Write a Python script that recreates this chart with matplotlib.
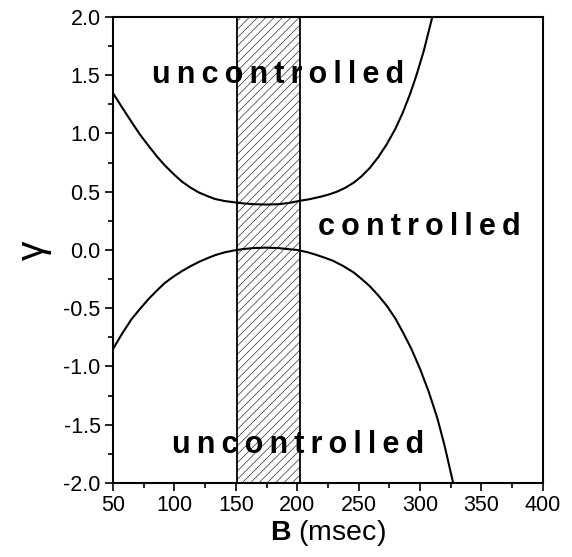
import matplotlib
matplotlib.use('Agg')
import matplotlib.pyplot as plt
from matplotlib.ticker import MultipleLocator, FormatStrFormatter

# upper boundary gamma(B)
b_upper = [50, 57, 65, 72, 79, 86, 92, 99, 106, 113, 120, 127, 133, 141, 149, 156, 165, 175, 185,
           194, 202, 210, 219, 226, 232, 239, 246, 252, 259, 266, 273, 280, 286, 292, 297, 303, 310]
g_upper = [1.346, 1.23, 1.10, 0.99, 0.893, 0.80, 0.728, 0.655, 0.588, 0.536, 0.493, 0.462, 0.438,
           0.420, 0.409, 0.400, 0.393, 0.390, 0.393, 0.405, 0.422, 0.436, 0.457, 0.477, 0.499,
           0.533, 0.578, 0.629, 0.703, 0.797, 0.909, 1.042, 1.18, 1.342, 1.497, 1.707, 2.0]

# lower boundary gamma(B)
b_lower = [50, 57, 65, 72, 79, 86, 92, 99, 106, 113, 120, 127, 133, 141, 148, 156, 165, 175, 185,
           194, 200, 208, 215, 222, 229, 237, 246, 252, 259, 266, 273, 280, 286, 293, 300, 307,
           314, 320, 326, 327]
g_lower = [-0.85, -0.725, -0.595, -0.505, -0.42, -0.345, -0.285, -0.23, -0.182, -0.14, -0.102,
           -0.07, -0.045, -0.02, -0.005, 0.008, 0.017, 0.02, 0.016, 0.006, 0.0, -0.018, -0.04,
           -0.065, -0.092, -0.135, -0.193, -0.245, -0.31, -0.39, -0.48, -0.59, -0.705, -0.85,
           -1.02, -1.215, -1.44, -1.68, -1.955, -2.0]

# hatched band
band = (151, 202)

region_labels = ['uncontrolled', 'controlled', 'uncontrolled']
region_pos = [(82, 1.43), (217, 0.128), (98, -1.743)]

plt.rcParams['font.family'] = ['Liberation Sans', 'DejaVu Sans']
plt.rcParams['mathtext.fontset'] = 'custom'
plt.rcParams['mathtext.rm'] = 'Liberation Sans'
plt.rcParams['mathtext.bf'] = 'Liberation Sans:bold'
plt.rcParams['axes.unicode_minus'] = False
plt.rcParams['hatch.linewidth'] = 0.4

fig = plt.figure(figsize=(5.72, 5.57), dpi=100)
ax = fig.add_axes([0.1976, 0.1329, 0.7514, 0.8366])

ax.axvspan(band[0], band[1], facecolor='white', edgecolor='black', hatch='////', lw=1.3, zorder=1)

ax.plot(b_upper, g_upper, color='black', lw=1.5, zorder=3)
ax.plot(b_lower, g_lower, color='black', lw=1.5, zorder=3)

for lab, (x, y) in zip(region_labels, region_pos):
    ax.text(x, y, '\u2009'.join(lab), fontsize=22, fontweight='bold', ha='left', va='baseline', zorder=4)

ax.set_xlim(50, 400)
ax.set_ylim(-2.0, 2.0)
ax.xaxis.set_major_locator(MultipleLocator(50))
ax.xaxis.set_minor_locator(MultipleLocator(25))
ax.yaxis.set_major_locator(MultipleLocator(0.5))
ax.yaxis.set_minor_locator(MultipleLocator(0.25))
ax.yaxis.set_major_formatter(FormatStrFormatter('%.1f'))

ax.tick_params(which='major', direction='out', length=6, width=1.2, labelsize=15.5, pad=3)
ax.tick_params(which='minor', direction='out', length=3.5, width=1.2)
for s in ax.spines.values():
    s.set_linewidth(1.5)

ax.set_xlabel(r'$\mathbf{B}$ (msec)', fontsize=20.5, labelpad=1)
ax.set_ylabel('γ', fontsize=28, labelpad=8)

fig.savefig('out.png', dpi=100)
